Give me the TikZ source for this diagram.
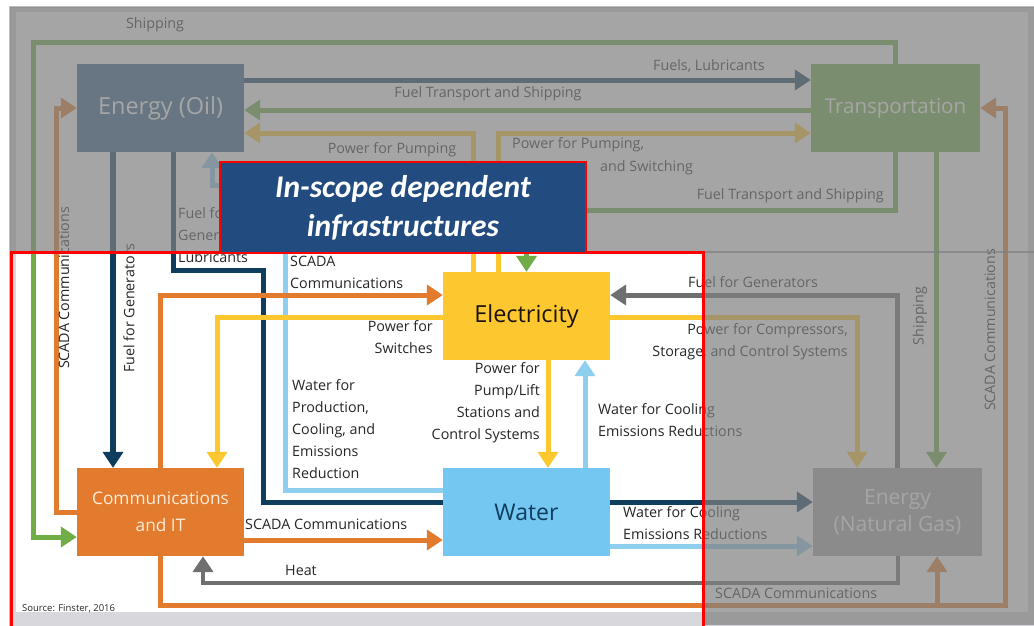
\documentclass[tikz,border=0pt]{standalone}
\usepackage{fontspec}
\setmainfont{Open Sans}
\newfontfamily\titlefont{Carlito}
\usetikzlibrary{arrows.meta}

\definecolor{oilblue}{HTML}{2F6189}
\definecolor{navy}{HTML}{0F3D5E}
\definecolor{shipgreen}{HTML}{70AD47}
\definecolor{elecyellow}{HTML}{FDC82F}
\definecolor{commorange}{HTML}{E27B2E}
\definecolor{waterblue}{HTML}{74C7F0}
\definecolor{waterline}{HTML}{8ECFEF}
\definecolor{gasgray}{HTML}{A5A5A5}
\definecolor{fuelgray}{HTML}{6F6F6F}
\definecolor{titleblue}{HTML}{224B7F}
\definecolor{labeltext}{HTML}{262626}
\definecolor{framegray}{HTML}{D8D8DC}
\definecolor{shade}{HTML}{808080}

\tikzset{
  box/.style={minimum width=167pt, minimum height=88pt, inner sep=0pt,
    align=center, font=\fontsize{21}{26}\selectfont},
  lbl/.style={font=\fontsize{14.3}{22}\selectfont, text=labeltext, inner sep=0pt},
  conn/.style={line width=5pt, -{Triangle[length=16pt,width=20pt]}},
  veil/.style={fill=shade, fill opacity=0.7},
}

\begin{document}
\begin{tikzpicture}[x=1pt, y=-1pt]
\useasboundingbox (0,0) rectangle (1034,625);

% slide frame and white canvas
\fill[framegray, draw=black!25, line width=1.2pt] (10,7) rectangle (1040,632);
\fill[white] (16,12) rectangle (1028,612);

% infrastructure boxes (positions only; drawn after the connectors)
\path
  (160.5,108) node[box] (oil) {}
  (895.5,108) node[box, minimum width=169pt] (trans) {}
  (526.5,316) node[box] (elec) {}
  (160.5,512) node[box] (comms) {}
  (526.5,512) node[box] (water) {}
  (897.5,512) node[box, minimum width=169pt] (gas) {};

% ---- connectors ----
% Transportation -> Communications (Shipping)
\draw[conn, shipgreen] (trans.north) |- (33,42) |- ([yshift=-25pt]comms.west);
% Oil -> Transportation
\draw[conn, navy] ([yshift=28pt]oil.east) -- ([yshift=28pt]trans.west);
% Transportation -> Oil
\draw[conn, shipgreen] ([yshift=-2pt]trans.west) -- ([yshift=-2pt]oil.east);
% Electricity -> Oil, Electricity -> Transportation
\draw[conn, elecyellow] ([xshift=-53.5pt]elec.north) |- ([yshift=-25pt]oil.east);
\draw[conn, elecyellow] ([xshift=-28.5pt]elec.north) |- ([yshift=-25pt]trans.west);
% Transportation -> Electricity
\draw[conn, shipgreen] (trans.south) -- ++(0,58) -| (elec.north);
% Transportation -> Natural Gas
\draw[conn, shipgreen] ([xshift=41pt]trans.south) -- ([xshift=39pt]gas.north);
% Communications -> Oil
\draw[conn, commorange] (comms.west) -- ++(-20,0) |- (oil.west);
% Oil -> Communications
\draw[conn, navy, line width=6pt] ([xshift=-47.5pt]oil.south) -- ([xshift=-47.5pt]comms.north);
% Oil -> Natural Gas (passes behind Water)
\draw[conn, navy] ([xshift=12.5pt]oil.south) |- (263,270) |- ([yshift=10pt]gas.west);
% Water -> Oil
\draw[conn, waterline] ([yshift=22pt]water.west) -| (285,185) -| ([xshift=51.5pt]oil.south);
% Communications -> Electricity
\draw[conn, commorange] ([xshift=-0.5pt]comms.north) |- ([yshift=21pt]elec.west);
% Electricity -> Communications
\draw[conn, elecyellow] ([yshift=-1pt]elec.west) -| ([xshift=56.5pt]comms.north);
% Natural Gas -> Electricity
\draw[conn, fuelgray] (gas.north) |- ([yshift=21pt]elec.east);
% Electricity -> Natural Gas
\draw[conn, elecyellow] ([yshift=-1pt]elec.east) -| ([xshift=-40.5pt]gas.north);
% Electricity <-> Water
\draw[conn, elecyellow] ([xshift=21.5pt]elec.south) -- ([xshift=21.5pt]water.north);
\draw[conn, waterline] ([xshift=58.5pt]water.north) -- ([xshift=58.5pt]elec.south);
% Communications -> Water
\draw[conn, commorange] ([yshift=-28pt]comms.east) -- ([yshift=-28pt]water.west);
% Water -> Natural Gas
\draw[conn, waterline] ([yshift=-34pt]water.east) -- ([yshift=-34pt]gas.west);
% Natural Gas -> Communications (Heat)
\draw[conn, fuelgray, line width=4pt] (gas.south) -- ++(0,27) -| ([xshift=42.5pt]comms.south);
% Communications -> Natural Gas and Transportation (SCADA)
\coordinate (tee) at (937,605);
\draw[conn, commorange] ([xshift=-0.5pt]comms.south) |- (1005,605) |- (trans.east);
\draw[conn, commorange] (tee) -- ([xshift=39.5pt]gas.south);

% ---- boxes ----
\node[box, fill=oilblue, text=white, font=\fontsize{23.5}{26}\selectfont] at (oil) {Energy (Oil)};
\node[box, minimum width=169pt, fill=shipgreen, text=white, font=\fontsize{20.5}{26}\selectfont] at (trans) {Transportation};
\node[box, fill=elecyellow, text=black!85!brown, font=\fontsize{23.5}{26}\selectfont] at (elec) {Electricity};
\node[box, fill=commorange, text=orange!15, font=\fontsize{17.3}{27}\selectfont] at (comms) {Communications\\and IT};
\node[box, fill=waterblue, text=navy, font=\fontsize{23}{26}\selectfont] at (water) {Water};
\node[box, minimum width=169pt, fill=gasgray, text=white, font=\fontsize{21}{27}\selectfont] at (gas) {Energy\\(Natural Gas)};

% ---- labels ----
\node[lbl] (l1) at (155,25) {Shipping};
\node[lbl, anchor=east] (l2) at (765,66) {Fuels, Lubricants};
\node[lbl] (l3) at (488,94) {Fuel Transport and Shipping};
\node[lbl] (l4) at (392,150) {Power for Pumping};
\node[lbl, anchor=west] (l5) at (512,145) {Power for Pumping,};
\node[lbl, anchor=west] (l6) at (600,168) {and Switching};
\node[lbl, anchor=east] (l7) at (884,196) {Fuel Transport and Shipping};
\node[lbl, anchor=west, align=left] (l8) at (178,235) {Fuel for\\Generators,\\Lubricants};
\node[lbl, anchor=west, align=left] (l9) at (290,272.5) {SCADA\\Communications};
\node[lbl, anchor=east, align=right] (l10) at (433,337.5) {Power for\\Switches};
\node[lbl, anchor=west, align=left] (l11) at (292,429) {Water for\\Production,\\Cooling, and\\Emissions\\Reduction};
\node[lbl, anchor=east, align=right] (l12) at (540,403) {Power for\\Pump/Lift\\Stations and\\Control Systems};
\node[lbl, anchor=west, align=left] (l13) at (598,420) {Water for Cooling\\Emissions Reductions};
\node[lbl, anchor=west] (l14) at (688,282) {Fuel for Generators};
\node[lbl, anchor=east, align=right] (l15) at (848,342) {Power for Compressors,\\Storage, and Control Systems};
\node[lbl, anchor=west] (l16) at (245,524) {SCADA Communications};
\node[lbl, anchor=west, align=left] (l17) at (623,523.5) {Water for Cooling\\Emissions Reductions};
\node[lbl, anchor=west] (l18) at (285,570) {Heat};
\node[lbl, anchor=west] (l19) at (715,593) {SCADA Communications};
\node[lbl, rotate=90] (l20) at (64,288) {SCADA Communications};
\node[lbl, rotate=90] (l21) at (129,308) {Fuel for Generators};
\node[lbl, rotate=90] (l22) at (920,316) {Shipping};
\node[lbl, rotate=90] (l23) at (990,330) {SCADA Communications};
\node[lbl, anchor=west, font=\fontsize{9.5}{10}\selectfont] (src) at (22,609) {Source: Finster, 2016};

% ---- shading outside the highlighted region ----
\fill[veil] (10,7) rectangle (1034,253);
\fill[veil] (703,251) rectangle (1034,625);

% ---- highlighted region and its title ----
\draw[red, line width=3pt] (11.5,252) rectangle (703,640);
\node[fill=titleblue, draw=red, line width=1.5pt, minimum width=366pt, minimum height=91pt,
      inner sep=0pt, align=center, text=white,
      font=\titlefont\bfseries\itshape\fontsize{31.5}{39}\selectfont] (title) at (403,207.5)
  {In-scope dependent\\infrastructures};
\end{tikzpicture}
\end{document}
